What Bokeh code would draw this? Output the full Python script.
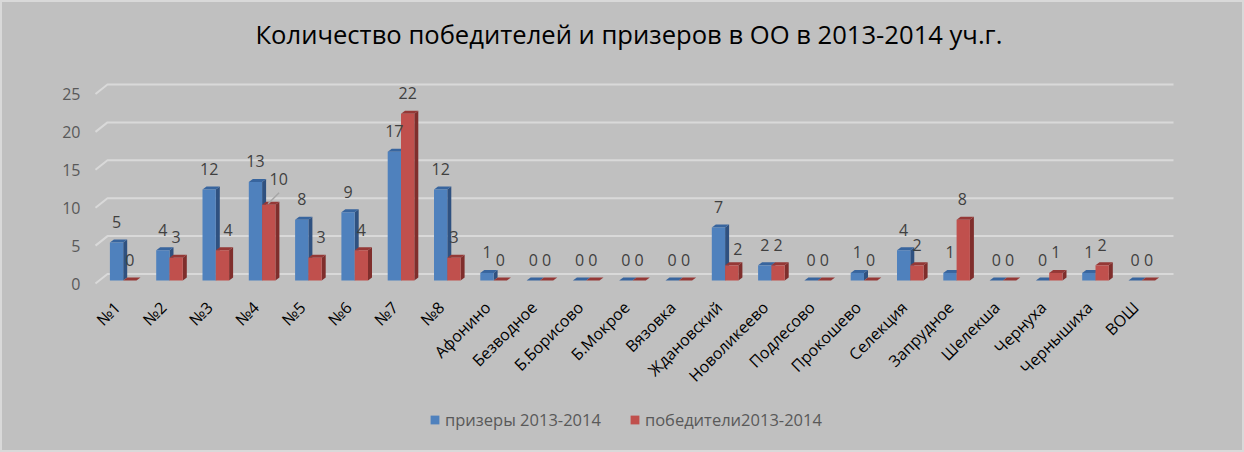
from math import pi
from bokeh.plotting import figure
from bokeh.models import (Range1d, LinearAxis, FixedTicker, ColumnDataSource, Legend, LegendItem)
from bokeh.core.properties import value
from bokeh.embed import file_html
from bokeh.resources import INLINE

categories = ["№1", "№2", "№3", "№4", "№5", "№6", "№7", "№8", "Афонино", "Безводное", "Б.Борисово",
              "Б.Мокрое", "Вязовка", "Ждановский", "Новоликеево", "Подлесово", "Прокошево", "Селекция",
              "Запрудное", "Шелекша", "Чернуха", "Чернышиха", "ВОШ"]
prizers = [5, 4, 12, 13, 8, 9, 17, 12, 1, 0, 0, 0, 0, 7, 2, 0, 1, 4, 1, 0, 0, 1, 0]
winners = [0, 3, 4, 10, 3, 4, 22, 3, 0, 0, 0, 0, 0, 2, 2, 0, 0, 2, 8, 0, 1, 2, 0]
y_ticks = [0, 5, 10, 15, 20, 25]
title_text = "Количество победителей и призеров в ОО в 2013-2014 уч.г."
series_names = ["призеры 2013-2014", "победители2013-2014"]

FONT = "Open Sans"
BG = "#C0C0C0"
GRID = "#D9D9D9"
TXT = "#595959"
LBL = "#404040"

STEP, UNIT, X0, Y0 = 46.3, 7.58, 122.7, 283.0
FIG_L, FIG_T, W, H = 0, 0, 1244, 452
TOP_BORDER = 52

def dx(px): return px / STEP
def dy(px): return px / UNIT
def xd(px): return (px - X0) / STEP
def yd(py): return (Y0 - py) / UNIT

bw = dx(13.3)
dep_x, dep_y = dx(4), dy(3)
floor = dy(3)

p = figure(width=W, height=H, output_backend="svg", toolbar_location=None,
           x_range=Range1d(xd(FIG_L), xd(FIG_L + W)),
           y_range=Range1d(yd(FIG_T + H), yd(FIG_T + TOP_BORDER)),
           x_axis_location=None, y_axis_location=None,
           min_border_left=0, min_border_right=0, min_border_bottom=0, min_border_top=TOP_BORDER,
           background_fill_alpha=0, border_fill_alpha=0, outline_line_color=None)
p.styles = {"background-color": BG, "outline": "2px solid " + GRID, "outline-offset": "-2px"}
p.grid.visible = False

p.title.text = title_text
p.title.align = "left"
p.title.offset = 255
p.title.text_font = FONT
p.title.text_font_size = "25.6px"
p.title.text_font_style = "normal"
p.title.text_color = "#000000"
p.title.standoff = 2

xs_g, ys_g = [], []
for t in y_ticks:
    xs_g.append([xd(95), xd(107), xd(1173)])
    ys_g.append([t, t + dy(9.5), t + dy(9.5)])
p.multi_line(xs_g, ys_g, line_color=GRID, line_width=2)

def bars(vals, left_off, face, side, top):
    xl = [i + left_off for i in range(len(vals))]
    xr = [x + bw for x in xl]
    tops = [floor + v for v in vals]
    p.patches([[r, r + dep_x, r + dep_x, r] for r in xr],
              [[floor, floor + dep_y, t + dep_y, t] for t in tops],
              fill_color=side, line_color=None)
    p.patches([[l, r, r + dep_x, l + dep_x] for l, r in zip(xl, xr)],
              [[t, t, t + dep_y, t + dep_y] for t in tops],
              fill_color=top, line_color=None)
    return p.quad(left=xl, right=xr, bottom=[floor] * len(vals), top=tops,
                  fill_color=face, line_color=None)

r1 = bars(prizers, -bw, "#4F81BD", "#2F5180", "#38659E")
r2 = bars(winners, 0, "#C0504D", "#7F2E2C", "#953836")

moved_winners = {2: (5.5, 0), 3: (10, 5), 4: (6, 0), 13: (6, -4), 18: (-1, 0)}
lx, ly, lt = [], [], []
for i, v in enumerate(prizers):
    lx.append(i - bw / 2); ly.append(floor + v + dy(20.5)); lt.append(str(v))
for i, v in enumerate(winners):
    mx, my = moved_winners.get(i, (0, 0))
    lx.append(i + bw / 2 + dx(mx)); ly.append(floor + v + dy(20.5 + my)); lt.append(str(v))
p.text(x="x", y="y", text="t", source=ColumnDataSource(dict(x=lx, y=ly, t=lt)),
       text_font=value(FONT), text_font_size="16px", text_color=LBL,
       text_align="center", text_baseline="middle")

p.segment([3 + dx(6)], [floor + 10 + dy(1)], [3 + dx(17)], [floor + 10 + dy(12)],
          line_color="#A6A6A6", line_width=1.5)

yax = LinearAxis(ticker=FixedTicker(ticks=y_ticks), fixed_location=xd(95))
yax.axis_line_color = None
yax.major_tick_line_color = None
yax.minor_tick_line_color = None
yax.major_label_text_color = TXT
yax.major_label_text_font = FONT
yax.major_label_text_font_size = "16px"
yax.major_label_standoff = 9
p.add_layout(yax, "left")

label_shift = dx(-6)
x_ticks = [i + label_shift for i in range(len(categories))]
xax = LinearAxis(ticker=FixedTicker(ticks=x_ticks), fixed_location=0,
                 major_label_overrides=dict(zip(x_ticks, categories)))
xax.axis_line_color = None
xax.major_tick_line_color = None
xax.minor_tick_line_color = None
xax.major_label_text_color = "#000000"
xax.major_label_text_font = FONT
xax.major_label_text_font_size = "16px"
xax.major_label_orientation = pi / 4
xax.major_label_standoff = 15
p.add_layout(xax, "below")

legend = Legend(items=[LegendItem(label=series_names[0], renderers=[r1]),
                       LegendItem(label=series_names[1], renderers=[r2])],
                orientation="horizontal", location=(429, 21), padding=0, margin=0,
                glyph_width=11, glyph_height=11, label_standoff=5, spacing=28,
                background_fill_alpha=0, border_line_color=None,
                label_text_font=FONT, label_text_font_size="16.5px", label_text_color=TXT)
p.add_layout(legend, "center")

open("out.html", "w").write(file_html(p, INLINE))
